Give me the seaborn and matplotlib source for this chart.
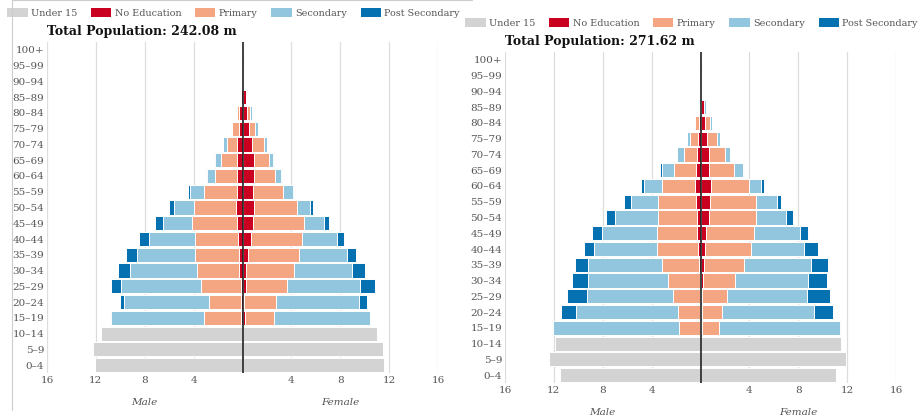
import numpy as np
import pandas as pd
import matplotlib
matplotlib.use("Agg")
import matplotlib.pyplot as plt
from matplotlib.patches import Patch
from matplotlib.lines import Line2D
import seaborn as sns

sns.set_theme(style="white")
plt.rcParams['font.family'] = ['DejaVu Serif', 'DejaVu Sans']

ages = ["0–4", "5–9", "10–14", "15–19", "20–24", "25–29", "30–34", "35–39",
        "40–44", "45–49", "50–54", "55–59", "60–64", "65–69", "70–74",
        "75–79", "80–84", "85–89", "90–94", "95–99", "100+"]
categories = ["Under 15", "No Education", "Primary", "Secondary", "Post Secondary"]
colors = ["#d3d3d3", "#ca0020", "#f4a582", "#92c5de", "#0571b0"]
titles = ["Total Population: 242.08 m", "Total Population: 271.62 m"]
tick_values = [-16, -12, -8, -4, 0, 4, 8, 12, 16]
tick_labels = ["16", "12", "8", "4", "", "4", "8", "12", "16"]

# ---- Panel 1 (millions) ----
p1_m_under15 = [12.1, 12.2, 11.6] + [0] * 18
p1_m_noedu = [0, 0, 0, 0.15, 0.16, 0.14, 0.27, 0.30, 0.38, 0.49, 0.57, 0.49, 0.46, 0.46, 0.44, 0.27, 0.25, 0.14, 0.03, 0.01, 0]
p1_m_prim = [0, 0, 0, 3.02, 2.60, 3.25, 3.45, 3.60, 3.50, 3.61, 3.39, 2.62, 1.75, 1.32, 0.84, 0.55, 0.24, 0.08, 0.01, 0, 0]
p1_m_sec = [0, 0, 0, 7.63, 6.91, 6.53, 5.46, 4.76, 3.80, 2.43, 1.61, 1.15, 0.66, 0.49, 0.30, 0.08, 0.08, 0.05, 0.01, 0, 0]
p1_m_post = [0, 0, 0, 0.02, 0.38, 0.88, 1.01, 0.88, 0.82, 0.63, 0.43, 0.22, 0.13, 0.08, 0.02, 0.01, 0, 0, 0, 0, 0]

p1_f_under15 = [11.6, 11.5, 11.0] + [0] * 18
p1_f_noedu = [0, 0, 0, 0.20, 0.14, 0.27, 0.27, 0.44, 0.71, 0.90, 0.96, 0.82, 0.93, 0.93, 0.79, 0.55, 0.38, 0.25, 0.05, 0.01, 0]
p1_f_prim = [0, 0, 0, 2.34, 2.59, 3.39, 3.91, 4.20, 4.13, 4.10, 3.47, 2.46, 1.75, 1.26, 0.99, 0.49, 0.22, 0.02, 0.02, 0.01, 0]
p1_f_sec = [0, 0, 0, 7.86, 6.77, 5.96, 4.81, 3.94, 2.86, 1.69, 1.12, 0.87, 0.46, 0.32, 0.22, 0.19, 0.17, 0.03, 0.05, 0.01, 0]
p1_f_post = [0, 0, 0, 0.02, 0.66, 1.25, 1.04, 0.68, 0.58, 0.41, 0.22, 0.08, 0.08, 0.04, 0.01, 0, 0, 0, 0, 0, 0]

# ---- Panel 2 (millions) ----
p2_m_under15 = [11.5, 12.4, 11.93] + [0] * 18
p2_m_noedu = [0, 0, 0, 0.08, 0.08, 0.08, 0.08, 0.16, 0.19, 0.25, 0.27, 0.38, 0.41, 0.35, 0.25, 0.19, 0.11, 0.08, 0.03, 0.01, 0]
p2_m_prim = [0, 0, 0, 1.72, 1.80, 2.15, 2.62, 3.03, 3.35, 3.35, 3.22, 3.11, 2.78, 1.80, 1.09, 0.63, 0.30, 0.08, 0.01, 0, 0]
p2_m_sec = [0, 0, 0, 10.30, 8.31, 7.03, 6.48, 5.99, 5.18, 4.47, 3.54, 2.18, 1.44, 1.04, 0.57, 0.27, 0.13, 0.06, 0.01, 0, 0]
p2_m_post = [0, 0, 0, 0.02, 1.20, 1.69, 1.36, 1.12, 0.82, 0.84, 0.71, 0.60, 0.27, 0.13, 0.05, 0.01, 0, 0, 0, 0, 0]

p2_f_under15 = [11.12, 11.93, 11.53] + [0] * 18
p2_f_noedu = [0, 0, 0, 0.14, 0.11, 0.16, 0.22, 0.27, 0.35, 0.49, 0.68, 0.79, 0.84, 0.71, 0.68, 0.57, 0.38, 0.25, 0.05, 0.01, 0]
p2_f_prim = [0, 0, 0, 1.36, 1.66, 2.02, 2.61, 3.30, 3.79, 3.90, 3.90, 3.79, 3.11, 2.01, 1.31, 0.77, 0.41, 0.05, 0.04, 0.01, 0]
p2_f_sec = [0, 0, 0, 9.94, 7.55, 6.54, 5.94, 5.48, 4.36, 3.78, 2.42, 1.69, 1.04, 0.79, 0.44, 0.27, 0.19, 0.11, 0.10, 0.01, 0]
p2_f_post = [0, 0, 0, 0.02, 1.55, 1.88, 1.58, 1.39, 1.09, 0.66, 0.57, 0.32, 0.19, 0.05, 0.02, 0, 0, 0, 0, 0, 0]

panels = [
    ([p1_m_under15, p1_m_noedu, p1_m_prim, p1_m_sec, p1_m_post],
     [p1_f_under15, p1_f_noedu, p1_f_prim, p1_f_sec, p1_f_post]),
    ([p2_m_under15, p2_m_noedu, p2_m_prim, p2_m_sec, p2_m_post],
     [p2_f_under15, p2_f_noedu, p2_f_prim, p2_f_sec, p2_f_post]),
]

order = ages[::-1]  # 100+ at top

fig = plt.figure(figsize=(9.21, 4.19), dpi=100)
axes_pos = [[47 / 921, 1 - 373 / 419, 391 / 921, 331 / 419],
            [505 / 921, 1 - 383 / 419, 391 / 921, 331 / 419]]

text_grey = "#555555"

for pi, (male_layers, female_layers) in enumerate(panels):
    ax = fig.add_axes(axes_pos[pi])
    for sign, layers in ((-1, male_layers), (1, female_layers)):
        arr = np.array(layers, dtype=float)  # shape (5, 21)
        cum = np.cumsum(arr, axis=0)
        # draw outermost first so inner layers sit on top
        for li in range(len(categories) - 1, -1, -1):
            df = pd.DataFrame({"age": ages, "value": sign * cum[li]})
            sns.barplot(data=df, x="value", y="age", order=order, orient="h",
                        color=colors[li], saturation=1, width=0.9,
                        edgecolor="white", linewidth=0.7, ax=ax)
    ax.set_xlim(-16, 16)
    ax.set_ylim(len(ages) - 0.5, -0.5)
    ax.set_xticks(tick_values)
    ax.set_xticklabels(tick_labels)
    ax.grid(axis="x", color="#dddddd", linewidth=0.9)
    ax.set_axisbelow(True)
    ax.axvline(0, color="#222222", linewidth=1.2, zorder=10)
    for s in ax.spines.values():
        s.set_visible(False)
    ax.tick_params(axis="both", length=0, labelsize=7.5, colors=text_grey, pad=2)
    ax.set_xlabel("")
    ax.set_ylabel("")
    ax.text(0, 1.012, titles[pi], transform=ax.transAxes, ha="left", va="bottom",
            fontsize=9, fontweight="bold", color="#111111")
    ax.text(-8, len(ages) + 1.4, "Male", ha="center", va="center",
            fontsize=7.5, style="italic", color=text_grey)
    ax.text(8, len(ages) + 1.4, "Female", ha="center", va="center",
            fontsize=7.5, style="italic", color=text_grey)
    handles = [Patch(facecolor=c, edgecolor="none") for c in colors]
    ax.legend(handles, categories, loc="lower center", bbox_to_anchor=(0.477, 1.073),
              ncol=5, frameon=False, fontsize=6.9, handlelength=2.1,
              handleheight=0.95, handletextpad=0.35, columnspacing=1.45,
              labelcolor=text_grey, borderaxespad=0, borderpad=0)

# container border lines seen in the screenshot
fig.add_artist(Line2D([12 / 921, 12 / 921], [1, 1 - 410 / 419], transform=fig.transFigure,
                      color="#cccccc", linewidth=0.8))
fig.add_artist(Line2D([12 / 921, 472 / 921], [1 - 0.5 / 419, 1 - 0.5 / 419], transform=fig.transFigure,
                      color="#cccccc", linewidth=0.8))

fig.savefig("out.png", dpi=100)
